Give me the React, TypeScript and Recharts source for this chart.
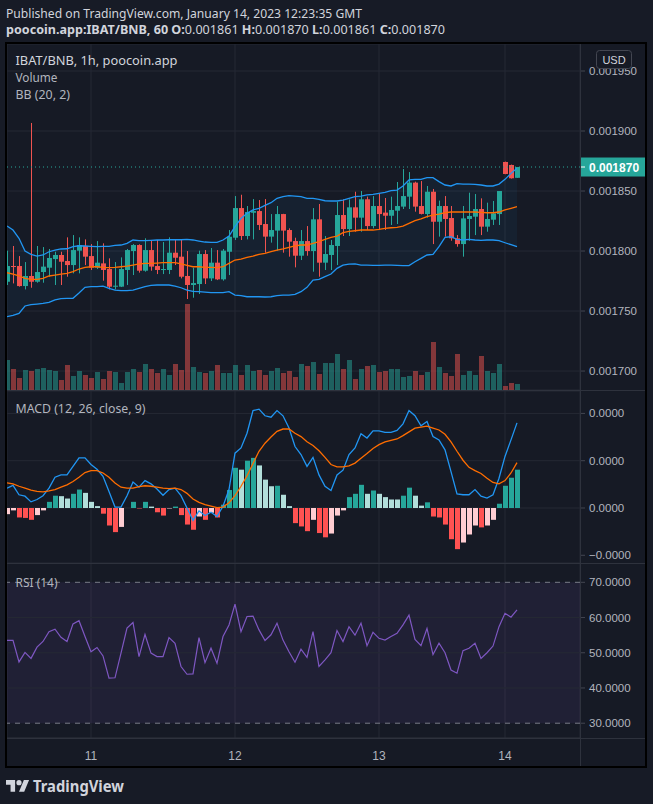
import React from 'react';
import {
  ComposedChart,
  Bar,
  Line,
  Area,
  XAxis,
  YAxis,
  CartesianGrid,
  ReferenceLine,
  ReferenceArea,
} from 'recharts';

// ---------- DATA (prices in millionths of BNB) ----------
const PRICE_UNIT = 1e-6;
const MACD_UNIT = 5e-6;

const opens = [
  1774.4, 1787.5, 1787.5, 1770.8, 1779.2, 1774.4, 1782.5, 1786.1, 1793.3, 1796.7,
  1791.7, 1788.3, 1800.3, 1804.2, 1795.8, 1786.1, 1789.7, 1785.0, 1770.3, 1770.3,
  1784.2, 1800.0, 1805.0, 1783.6, 1800.8, 1787.5, 1784.7, 1784.2, 1798.6, 1795.3,
  1779.2, 1771.7, 1772.5, 1797.5, 1777.2, 1790.3, 1776.4, 1799.4, 1811.1, 1835.8,
  1812.5, 1831.9, 1833.3, 1822.5, 1812.0, 1817.0, 1830.8, 1817.5, 1808.3, 1796.1,
  1808.3, 1800.0, 1826.4, 1790.3, 1796.7, 1804.2, 1830.0, 1818.3, 1836.4, 1827.8,
  1843.1, 1820.8, 1837.5, 1832.0, 1829.4, 1833.6, 1837.0, 1845.3, 1857.0, 1837.5,
  1830.8, 1849.4, 1824.4, 1837.5, 1827.5, 1810.6, 1805.8, 1826.7, 1828.6, 1835.0,
  1820.3, 1826.1, 1830.8, 1874.2, 1871.7, 1861.0,
];
const highs = [
  1800.3, 1804.2, 1795.8, 1790.8, 1906.7, 1804.2, 1803.3, 1801.7, 1799.4, 1799.4,
  1811.4, 1813.3, 1811.4, 1809.7, 1805.8, 1808.3, 1806.4, 1793.9, 1790.8, 1794.7,
  1801.7, 1805.8, 1805.6, 1810.6, 1809.2, 1809.2, 1807.5, 1811.4, 1809.7, 1809.7,
  1800.0, 1786.1, 1800.3, 1800.8, 1802.5, 1800.8, 1801.7, 1817.5, 1845.8, 1846.9,
  1837.5, 1843.3, 1842.5, 1843.3, 1830.8, 1837.5, 1831.0, 1818.9, 1811.1, 1817.5,
  1820.8, 1835.8, 1839.2, 1812.5, 1809.2, 1841.1, 1843.0, 1843.0, 1849.4, 1850.0,
  1845.3, 1845.8, 1848.0, 1844.2, 1845.3, 1857.5, 1868.3, 1865.8, 1857.8, 1858.3,
  1854.2, 1851.7, 1842.0, 1845.8, 1837.5, 1813.3, 1837.5, 1848.6, 1847.5, 1843.9,
  1840.3, 1841.7, 1850.0, 1874.5, 1872.0, 1870.0,
];
const lows = [
  1771.7, 1773.0, 1770.3, 1768.0, 1769.4, 1773.6, 1773.6, 1778.6, 1771.7, 1771.7,
  1778.6, 1781.4, 1781.4, 1788.3, 1784.2, 1785.0, 1775.3, 1768.0, 1768.0, 1770.0,
  1771.7, 1780.0, 1782.0, 1782.8, 1783.6, 1780.8, 1780.8, 1780.8, 1788.3, 1777.2,
  1760.0, 1761.1, 1764.2, 1772.5, 1775.0, 1775.8, 1775.3, 1780.0, 1809.2, 1809.2,
  1809.7, 1809.7, 1817.5, 1798.6, 1807.0, 1800.3, 1798.6, 1795.3, 1786.4, 1792.5,
  1796.1, 1782.8, 1778.6, 1784.2, 1784.2, 1788.3, 1812.5, 1812.5, 1816.1, 1816.1,
  1817.5, 1818.9, 1817.5, 1817.5, 1821.7, 1822.5, 1835.0, 1835.0, 1832.8, 1830.5,
  1827.8, 1805.8, 1812.0, 1812.0, 1808.6, 1803.6, 1795.3, 1808.6, 1813.3, 1813.3,
  1816.1, 1821.7, 1821.7, 1864.0, 1860.4, 1861.0,
];
const closes = [
  1787.5, 1787.0, 1770.8, 1779.2, 1774.4, 1782.5, 1787.0, 1794.2, 1796.7, 1791.1,
  1788.3, 1800.8, 1805.0, 1795.3, 1786.1, 1790.3, 1784.2, 1770.3, 1771.1, 1785.0,
  1800.8, 1805.0, 1783.6, 1800.8, 1787.0, 1784.2, 1785.0, 1798.6, 1794.4, 1778.6,
  1771.7, 1773.3, 1797.5, 1777.2, 1790.3, 1776.4, 1800.3, 1811.9, 1835.8, 1812.5,
  1832.5, 1833.3, 1821.7, 1812.0, 1817.5, 1830.8, 1817.0, 1807.8, 1796.1, 1808.3,
  1800.0, 1826.4, 1790.3, 1797.5, 1805.0, 1830.0, 1818.3, 1836.4, 1827.8, 1843.1,
  1820.8, 1837.5, 1830.8, 1829.4, 1834.2, 1837.5, 1845.8, 1857.0, 1837.0, 1830.9,
  1849.4, 1824.4, 1837.5, 1826.7, 1810.6, 1805.8, 1827.2, 1829.2, 1835.0, 1820.3,
  1826.7, 1831.4, 1850.0, 1864.2, 1860.6, 1870.0,
];
const volumes = [
  30, 21, 12, 20, 19, 21, 22, 20, 19, 10,
  25, 14, 19, 15, 12, 18, 11, 19, 18, 7,
  18, 21, 18, 26, 21, 17, 21, 15, 26, 20,
  86, 23, 18, 17, 19, 25, 17, 17, 25, 15,
  25, 19, 20, 15, 19, 22, 17, 19, 13, 26,
  24, 28, 16, 27, 27, 36, 21, 30, 11, 21,
  24, 25, 18, 19, 21, 21, 13, 14, 19, 15,
  18, 48, 23, 17, 14, 36, 15, 19, 15, 34,
  19, 17, 26, 4, 7, 6,
];
const bbUpper = [
  1820.8, 1817.5, 1810.6, 1800.0, 1797.2, 1795.8, 1796.7, 1799.4, 1800.8, 1801.7,
  1801.9, 1803.6, 1804.4, 1804.2, 1803.9, 1803.6, 1803.9, 1803.9, 1804.7, 1805.0,
  1806.4, 1809.2, 1808.6, 1808.6, 1808.9, 1809.2, 1809.2, 1809.4, 1809.4, 1809.4,
  1809.7, 1809.2, 1808.3, 1807.5, 1807.2, 1807.2, 1809.2, 1812.5, 1820.3, 1827.2,
  1831.4, 1834.2, 1835.6, 1838.1, 1840.3, 1843.9, 1845.3, 1846.1, 1845.8, 1845.3,
  1843.9, 1843.9, 1843.0, 1841.9, 1841.7, 1841.7, 1842.5, 1843.9, 1845.3, 1845.8,
  1846.7, 1847.2, 1848.1, 1848.9, 1850.3, 1850.8, 1854.2, 1859.2, 1859.7, 1859.7,
  1861.1, 1861.1, 1857.8, 1855.0, 1854.2, 1856.1, 1855.8, 1855.8, 1855.6, 1855.0,
  1854.2, 1854.2, 1855.8, 1859.7, 1864.7, 1868.9,
];
const bbBasis = [
  1781.9, 1780.8, 1779.2, 1777.2, 1776.4, 1776.4, 1777.2, 1779.2, 1780.0, 1780.8,
  1781.4, 1782.8, 1785.0, 1786.4, 1786.9, 1786.9, 1786.4, 1786.1, 1786.4, 1786.9,
  1787.5, 1788.3, 1789.2, 1789.7, 1789.7, 1790.0, 1790.3, 1790.3, 1790.3, 1789.2,
  1788.1, 1786.9, 1786.9, 1786.4, 1786.4, 1786.1, 1786.9, 1789.7, 1792.5, 1793.3,
  1794.7, 1795.8, 1797.2, 1798.1, 1799.4, 1800.8, 1801.7, 1803.1, 1804.2, 1805.0,
  1805.0, 1806.4, 1807.8, 1809.7, 1811.4, 1812.5, 1815.3, 1816.4, 1816.9, 1817.5,
  1817.5, 1817.5, 1818.1, 1818.9, 1819.4, 1819.7, 1820.8, 1823.1, 1825.3, 1826.7,
  1828.6, 1830.0, 1830.8, 1831.9, 1832.5, 1832.5, 1832.5, 1832.5, 1832.5, 1832.2,
  1831.9, 1831.9, 1832.5, 1834.2, 1835.6, 1836.9,
];
const bbLower = [
  1745.3, 1746.4, 1748.0, 1754.2, 1755.3, 1755.8, 1756.4, 1757.2, 1759.2, 1760.3,
  1760.6, 1760.6, 1765.0, 1769.7, 1770.3, 1770.3, 1770.8, 1768.9, 1767.5, 1767.0,
  1767.0, 1767.5, 1768.9, 1770.3, 1771.4, 1771.7, 1771.7, 1771.7, 1770.8, 1769.4,
  1767.5, 1766.4, 1766.1, 1765.8, 1765.3, 1765.3, 1765.3, 1766.1, 1763.3, 1762.8,
  1761.9, 1761.9, 1761.9, 1761.7, 1761.9, 1762.8, 1763.3, 1763.3, 1763.9, 1766.1,
  1769.7, 1775.8, 1776.4, 1778.6, 1780.8, 1785.6, 1788.3, 1789.0, 1789.2, 1788.3,
  1788.3, 1788.1, 1788.1, 1788.3, 1788.3, 1788.1, 1787.8, 1787.8, 1791.1, 1793.9,
  1796.7, 1797.2, 1803.6, 1811.4, 1811.9, 1809.7, 1809.2, 1809.7, 1809.2, 1808.9,
  1809.2, 1809.2, 1808.6, 1806.9, 1805.3, 1803.6,
];
const macdLine = [
  0.42, 0.48, 0.28, 0.25, 0.13, 0.18, 0.26, 0.42, 0.65, 0.70,
  0.70, 0.88, 1.06, 1.06, 0.92, 0.82, 0.67, 0.35, 0.02, 0.02,
  0.26, 0.55, 0.44, 0.58, 0.51, 0.40, 0.27, 0.39, 0.42, 0.26,
  0.00, -0.26, -0.06, -0.16, -0.09, -0.18, 0.04, 0.39, 1.16, 1.27,
  1.58, 2.06, 2.09, 1.95, 1.92, 2.06, 1.95, 1.69, 1.30, 1.13,
  0.88, 1.07, 0.70, 0.46, 0.37, 0.70, 0.80, 1.13, 1.27, 1.57,
  1.48, 1.63, 1.63, 1.60, 1.60, 1.64, 1.78, 2.06, 1.95, 1.74,
  1.83, 1.51, 1.44, 1.23, 0.77, 0.30, 0.28, 0.28, 0.39, 0.25,
  0.21, 0.28, 0.63, 1.09, 1.44, 1.80,
];
const signalLine = [
  0.53, 0.51, 0.46, 0.42, 0.38, 0.35, 0.34, 0.36, 0.39, 0.44,
  0.49, 0.56, 0.65, 0.75, 0.79, 0.79, 0.74, 0.65, 0.53, 0.44,
  0.42, 0.42, 0.45, 0.47, 0.46, 0.44, 0.42, 0.41, 0.42, 0.39,
  0.31, 0.19, 0.12, 0.07, 0.04, 0.01, 0.02, 0.11, 0.26, 0.46,
  0.68, 0.94, 1.20, 1.37, 1.50, 1.62, 1.67, 1.67, 1.58, 1.51,
  1.40, 1.32, 1.21, 1.07, 0.92, 0.87, 0.87, 0.89, 0.95, 1.05,
  1.15, 1.26, 1.34, 1.40, 1.43, 1.46, 1.53, 1.61, 1.69, 1.71,
  1.73, 1.69, 1.65, 1.56, 1.40, 1.20, 1.01, 0.86, 0.79, 0.73,
  0.63, 0.54, 0.51, 0.58, 0.74, 0.96,
];
const macdHist = [
  -0.13, -0.05, -0.20, -0.21, -0.25, -0.15, -0.05, 0.13, 0.26, 0.25,
  0.20, 0.30, 0.39, 0.32, 0.13, 0.04, -0.12, -0.37, -0.51, -0.40,
  0.00, 0.13, -0.01, 0.13, 0.03, -0.09, -0.16, -0.01, 0.03, -0.15,
  -0.35, -0.46, -0.18, -0.25, -0.10, -0.20, 0.07, 0.38, 0.85, 0.81,
  1.00, 1.06, 0.90, 0.60, 0.46, 0.47, 0.28, 0.04, -0.32, -0.39,
  -0.49, -0.25, -0.53, -0.62, -0.54, -0.16, -0.05, 0.23, 0.30, 0.49,
  0.30, 0.37, 0.30, 0.23, 0.18, 0.18, 0.26, 0.43, 0.26, 0.05,
  0.12, -0.18, -0.20, -0.35, -0.66, -0.87, -0.73, -0.56, -0.37, -0.41,
  -0.37, -0.25, 0.09, 0.47, 0.64, 0.81,
];
const rsiValues = [
  53.5, 53.5, 47.4, 50.1, 48.4, 51.6, 53.2, 56.0, 56.7, 54.4,
  53.2, 58.2, 59.1, 54.6, 50.3, 51.5, 49.1, 42.8, 42.9, 49.9,
  57.0, 58.6, 48.9, 55.2, 49.9, 48.9, 48.9, 54.3, 52.7, 46.1,
  43.9, 44.0, 54.3, 47.2, 51.3, 47.0, 54.6, 57.9, 63.8, 56.0,
  60.3, 60.4, 56.5, 53.5, 55.1, 58.4, 53.6, 50.3, 47.3, 51.0,
  48.7, 56.0, 46.1, 48.0, 50.0, 56.3, 53.2, 57.4, 55.0, 58.4,
  52.0, 55.8, 54.1, 53.6, 54.6, 55.5, 57.9, 60.7, 53.8, 52.0,
  56.9, 49.5, 52.7, 50.0, 45.1, 44.2, 50.6, 51.3, 52.7, 48.4,
  50.0, 51.9, 57.4, 61.2, 60.1, 62.2,
];

const dayTicks = [14, 38, 62, 83];
const dayLabels = ['11', '12', '13', '14'];
const priceTicks = [1700, 1750, 1800, 1850, 1900, 1950];
const macdTicks = [-1, 0, 1, 2];
const rsiTicks = [30, 40, 50, 60, 70];
const rsiGridLevels = [40, 50, 60];
const rsiBand = [30, 70];

// ---------- STYLE ----------
const OUTER = '#171b26';
const BG = '#161a25';
const GRID = '#252934';
const SEP = '#2e323d';
const TEXT = '#b2b5be';
const TEXT_HI = '#d1d4dc';
const UP = '#26a69a';
const DOWN = '#ef5350';
const VOL_UP = 'rgba(38,166,154,0.5)';
const VOL_DOWN = 'rgba(239,83,80,0.5)';
const BLUE = '#2196f3';
const ORANGE = '#ff6d00';
const AXIS_FONT = "'Liberation Sans', Arial, sans-serif";
const UI_FONT = "'Noto Sans', 'Open Sans', sans-serif";

const X_DOMAIN: [number, number] = [0, 95.5];
const PRICE_DOMAIN: [number, number] = [1684.2, 1972.5];
const VOL_DOMAIN: [number, number] = [0, 346];
const MACD_DOMAIN: [number, number] = [-1.163, 2.474];
const RSI_DOMAIN: [number, number] = [25.8, 75.2];

const histColorAt = (i: number) => {
  const v = macdHist[i];
  const rising = i === 0 ? true : v > macdHist[i - 1];
  if (v >= 0) return rising ? '#26a69a' : '#b2dfdb';
  return rising ? '#ffcdd2' : '#ff5252';
};

const rows = closes.map((c, i) => ({
  i,
  o: opens[i],
  h: highs[i],
  l: lows[i],
  c,
  range: [lows[i], highs[i]],
  up: c >= opens[i],
  vol: volumes[i],
  bb: [bbLower[i], bbUpper[i]],
  upper: bbUpper[i],
  basis: bbBasis[i],
  lower: bbLower[i],
  macd: macdLine[i],
  signal: signalLine[i],
  hist: macdHist[i],
  histColor: histColorAt(i),
  rsi: rsiValues[i],
}));

const fmtPrice = (v: number) => (v * PRICE_UNIT).toFixed(6);
const fmtMacd = (v: number) => {
  const s = (v * MACD_UNIT).toFixed(4);
  return s.startsWith('-') ? '\u2212' + s.slice(1) : s;
};
const fmtRsi = (v: number) => v.toFixed(4);
const fmtDay = (v: number) => dayLabels[dayTicks.indexOf(v)] ?? '';

// ---------- SHAPES ----------
const Candle = (props: any) => {
  const { x, y, width, height, payload } = props;
  if (x == null || y == null || !payload) return null;
  const cx = Math.round(x + width / 2);
  const { o, h, l, c } = payload;
  const top = Math.min(y, y + height);
  const len = Math.abs(height);
  const ppu = h - l > 0 ? len / (h - l) : 0;
  const yOf = (v: number) => top + (h - v) * ppu;
  const bTop = yOf(Math.max(o, c));
  const bBot = yOf(Math.min(o, c));
  const color = c >= o ? UP : DOWN;
  return (
    <g>
      <rect x={cx} y={top} width={1} height={Math.max(1, len)} fill={color} />
      <rect x={cx - 2} y={bTop} width={5} height={Math.max(1, bBot - bTop)} fill={color} />
    </g>
  );
};

const VolBar = (props: any) => {
  const { x, y, width, height, payload } = props;
  if (x == null || y == null || !payload) return null;
  const cx = Math.round(x + width / 2);
  const top = Math.min(y, y + height);
  return <rect x={cx - 2} y={top} width={5} height={Math.abs(height)} fill={payload.up ? VOL_UP : VOL_DOWN} />;
};

const HistBar = (props: any) => {
  const { x, y, width, height, payload } = props;
  if (x == null || y == null || !payload) return null;
  const cx = Math.round(x + width / 2);
  const top = Math.min(y, y + height);
  return <rect x={cx - 2} y={top} width={5} height={Math.abs(height)} fill={payload.histColor} />;
};

const PriceTag = (props: any) => {
  const vb = props.viewBox || {};
  if (vb.y == null) return null;
  const x0 = (vb.x ?? 0) + (vb.width ?? 0);
  const yy = vb.y;
  return (
    <g>
      <rect x={x0} y={yy - 9.5} width={66} height={19} fill={UP} />
      <line x1={x0} x2={x0 + 5} y1={yy} y2={yy} stroke="#ffffff" strokeWidth={1} />
      <text x={x0 + 9} y={yy + 4.5} fill="#ffffff" fontSize={12} fontWeight={700} fontFamily={AXIS_FONT}>
        {fmtPrice(closes[closes.length - 1])}
      </text>
    </g>
  );
};

const yTick = { fill: TEXT, fontSize: 11.5, fontFamily: AXIS_FONT };

const abs = (top: number, z = 1): React.CSSProperties => ({ position: 'absolute', left: 0, top, zIndex: z });

export default function App() {
  const last = closes.length - 1;
  return (
    <div
      style={{
        position: 'absolute',
        left: 0,
        top: 0,
        width: 653,
        height: 804,
        background: OUTER,
        overflow: 'hidden',
        fontFamily: UI_FONT,
      }}
    >
      {/* chart frame */}
      <div style={{ position: 'absolute', left: 5, top: 42, width: 642, height: 726, boxSizing: 'border-box', border: '2px solid #000', background: BG }} />

      {/* main pane: grid, price axis, volume */}
      <div style={abs(44, 1)}>
        <ComposedChart width={653} height={346} data={rows} margin={{ top: 0, right: 7, bottom: 0, left: 7 }}>
          <CartesianGrid yAxisId="p" stroke={GRID} strokeWidth={1} />
          <XAxis dataKey="i" type="number" domain={X_DOMAIN} ticks={dayTicks} allowDataOverflow hide />
          <YAxis
            yAxisId="p"
            orientation="right"
            domain={PRICE_DOMAIN}
            ticks={priceTicks}
            allowDataOverflow
            width={66}
            axisLine={false}
            tickLine={{ stroke: '#434651' }}
            tickSize={5}
            tickMargin={4}
            tick={yTick}
            tickFormatter={fmtPrice}
          />
          <YAxis yAxisId="v" domain={VOL_DOMAIN} allowDataOverflow hide />
          <Bar yAxisId="v" dataKey="vol" barSize={5} shape={VolBar} isAnimationActive={false} />
        </ComposedChart>
      </div>

      {/* main pane: candles + bollinger */}
      <div style={abs(44, 2)}>
        <ComposedChart width={653} height={346} data={rows} margin={{ top: 0, right: 73, bottom: 0, left: 7 }}>
          <XAxis dataKey="i" type="number" domain={X_DOMAIN} ticks={dayTicks} allowDataOverflow hide />
          <YAxis domain={PRICE_DOMAIN} allowDataOverflow hide />
          <Area dataKey="bb" stroke="none" fill={BLUE} fillOpacity={0.06} isAnimationActive={false} />
          <Line dataKey="upper" stroke={BLUE} strokeWidth={1.3} dot={false} isAnimationActive={false} />
          <Line dataKey="lower" stroke={BLUE} strokeWidth={1.3} dot={false} isAnimationActive={false} />
          <Line dataKey="basis" stroke={ORANGE} strokeWidth={1.3} dot={false} isAnimationActive={false} />
          <Bar dataKey="range" barSize={5} shape={Candle} isAnimationActive={false} />
          <ReferenceLine y={closes[last]} stroke={UP} strokeDasharray="1 3" strokeWidth={1} label={<PriceTag />} />
        </ComposedChart>
      </div>

      {/* MACD pane */}
      <div style={abs(391, 1)}>
        <ComposedChart width={653} height={172} data={rows} margin={{ top: 0, right: 7, bottom: 0, left: 7 }}>
          <CartesianGrid stroke={GRID} strokeWidth={1} />
          <XAxis dataKey="i" type="number" domain={X_DOMAIN} ticks={dayTicks} allowDataOverflow hide />
          <YAxis
            orientation="right"
            domain={MACD_DOMAIN}
            ticks={macdTicks}
            allowDataOverflow
            width={66}
            axisLine={false}
            tickLine={{ stroke: '#434651' }}
            tickSize={5}
            tickMargin={4}
            tick={yTick}
            tickFormatter={fmtMacd}
          />
          <Bar dataKey="hist" barSize={5} shape={HistBar} isAnimationActive={false} />
          <Line dataKey="macd" stroke={BLUE} strokeWidth={1.3} dot={false} isAnimationActive={false} />
          <Line dataKey="signal" stroke={ORANGE} strokeWidth={1.3} dot={false} isAnimationActive={false} />
        </ComposedChart>
      </div>

      {/* RSI pane + time axis */}
      <div style={abs(564, 1)}>
        <ComposedChart width={653} height={203} data={rows} margin={{ top: 0, right: 7, bottom: 0, left: 7 }}>
          <CartesianGrid stroke={GRID} strokeWidth={1} horizontal={false} />
          <XAxis
            dataKey="i"
            type="number"
            domain={X_DOMAIN}
            ticks={dayTicks}
            allowDataOverflow
            height={29}
            axisLine={{ stroke: SEP }}
            tickLine={false}
            tickMargin={7}
            tick={{ fill: TEXT, fontSize: 12, fontFamily: AXIS_FONT }}
            tickFormatter={fmtDay}
          />
          <YAxis
            orientation="right"
            domain={RSI_DOMAIN}
            ticks={rsiTicks}
            allowDataOverflow
            width={66}
            axisLine={false}
            tickLine={{ stroke: '#434651' }}
            tickSize={5}
            tickMargin={4}
            tick={yTick}
            tickFormatter={fmtRsi}
          />
          <ReferenceArea y1={rsiBand[0]} y2={rsiBand[1]} fill="#7e57c2" fillOpacity={0.1} stroke="none" />
          {rsiGridLevels.map((lv) => (
            <ReferenceLine key={lv} y={lv} stroke={GRID} strokeWidth={1} />
          ))}
          {rsiBand.map((lv) => (
            <ReferenceLine key={'b' + lv} y={lv} stroke="#787b86" strokeDasharray="5 5" strokeWidth={1} />
          ))}
          <Line dataKey="rsi" stroke="#7e57c2" strokeWidth={1.2} dot={false} isAnimationActive={false} />
        </ComposedChart>
      </div>

      {/* separators */}
      <div style={{ position: 'absolute', left: 7, top: 390, width: 638, height: 1, background: SEP, zIndex: 3 }} />
      <div style={{ position: 'absolute', left: 7, top: 563, width: 638, height: 1, background: SEP, zIndex: 3 }} />
      <div style={{ position: 'absolute', left: 7, top: 738, width: 638, height: 1, background: SEP, zIndex: 3 }} />
      <div style={{ position: 'absolute', left: 580, top: 44, width: 1, height: 722, background: SEP, zIndex: 3 }} />
      {/* frame border on top (clips half-candle at left) */}
      <div style={{ position: 'absolute', left: 5, top: 42, width: 642, height: 726, boxSizing: 'border-box', border: '2px solid #000', zIndex: 4 }} />

      {/* text overlay */}
      <svg width={653} height={804} style={{ position: 'absolute', left: 0, top: 0, zIndex: 5, pointerEvents: 'none' }}>
        <text x={6} y={17.5} fill={TEXT_HI} fontSize={12.5} fontFamily={UI_FONT} textLength={356} lengthAdjust="spacingAndGlyphs">
          Published on TradingView.com, January 14, 2023 12:23:35 GMT
        </text>
        <text x={6} y={33.5} fill={TEXT_HI} fontSize={12.5} fontFamily={UI_FONT} textLength={439} lengthAdjust="spacingAndGlyphs">
          <tspan fontWeight={700}>poocoin.app:IBAT/BNB, 60 O:</tspan>
          <tspan>{fmtPrice(opens[last])} </tspan>
          <tspan fontWeight={700}>H:</tspan>
          <tspan>{fmtPrice(highs[last])} </tspan>
          <tspan fontWeight={700}>L:</tspan>
          <tspan>{fmtPrice(lows[last])} </tspan>
          <tspan fontWeight={700}>C:</tspan>
          <tspan>{fmtPrice(closes[last])}</tspan>
        </text>

        <text x={15.5} y={65} fill={TEXT_HI} fontSize={13} fontFamily={UI_FONT} textLength={162} lengthAdjust="spacingAndGlyphs">
          IBAT/BNB, 1h, poocoin.app
        </text>
        <text x={15.5} y={82} fill={TEXT} fontSize={13} fontFamily={UI_FONT} textLength={42} lengthAdjust="spacingAndGlyphs">
          Volume
        </text>
        <text x={15.5} y={99} fill={TEXT} fontSize={13} fontFamily={UI_FONT} textLength={54.5} lengthAdjust="spacingAndGlyphs">
          BB (20, 2)
        </text>

        <rect x={596.5} y={50.5} width={35} height={18} rx={3} fill={BG} stroke="#434651" strokeWidth={1} />
        <text x={614} y={63.5} fill={TEXT_HI} fontSize={11} fontFamily={AXIS_FONT} textAnchor="middle">
          USD
        </text>

        <text x={15.5} y={412.5} fill={TEXT} fontSize={13} fontFamily={UI_FONT} textLength={130} lengthAdjust="spacingAndGlyphs">
          MACD (12, 26, close, 9)
        </text>
        <text x={15.5} y={586.5} fill={TEXT} fontSize={13} fontFamily={UI_FONT} textLength={42} lengthAdjust="spacingAndGlyphs">
          RSI (14)
        </text>

        <g transform="translate(6,777.5) scale(0.65)" fill={TEXT_HI}>
          <path d="M14 22H7V11H0V4h14v18zM28 22h-8l7.5-18h8L28 22z" />
          <circle cx="20" cy="8" r="4" />
        </g>
        <text x={33} y={791.5} fill={TEXT_HI} fontSize={16.5} fontWeight={700} fontFamily={UI_FONT} textLength={91} lengthAdjust="spacingAndGlyphs">
          TradingView
        </text>
      </svg>
    </div>
  );
}
